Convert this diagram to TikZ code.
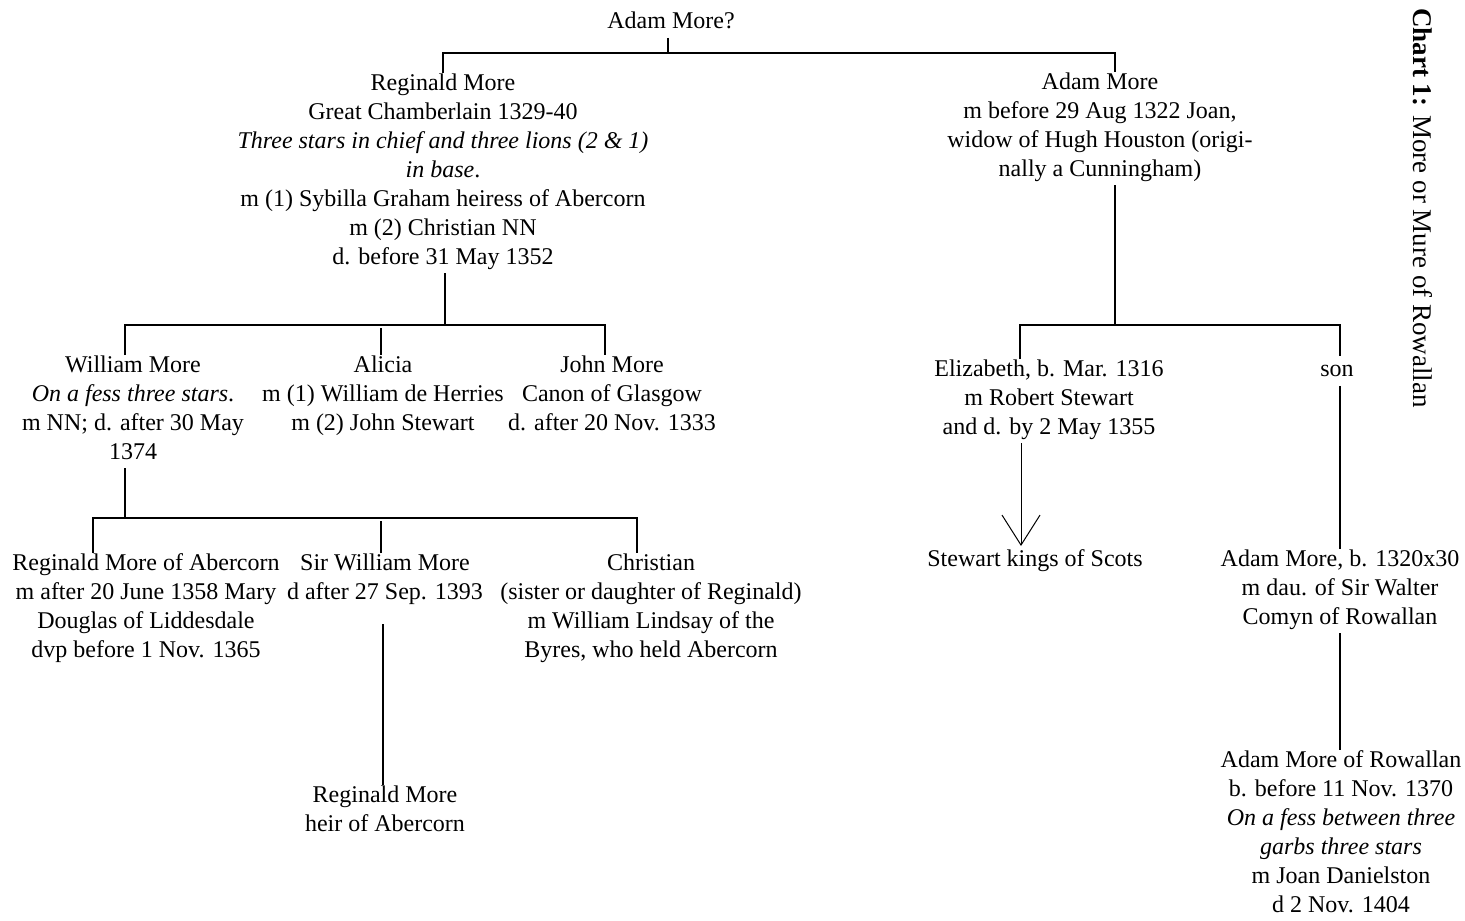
\documentclass[tikz,border=0pt]{standalone}
\usepackage{fontspec}
\setmainfont{Liberation Serif}
\usetikzlibrary{arrows.meta}
\tikzset{
  person/.style={align=center, inner sep=0pt, anchor=north,
    font=\fontsize{12}{14.5}\selectfont,
    execute at begin node=\strut, execute at end node=\strut},
  tree/.style={line width=1.2pt},
}
\begin{document}
\begin{tikzpicture}[x=0.5pt,y=-0.5pt]
  \fill[white] (0,0) rectangle (1465,920);
  \useasboundingbox (0,0) rectangle (1465,920);
  \node[person] (0) at (671,8) {Adam More?};
  \node[person] (1) at (443,73) {Reginald More\\Great Chamberlain 1329-40\\
    \textit{Three stars in chief and three lions (2 \& 1)}\\\textit{in base}.\\
    m (1) Sybilla Graham heiress of Abercorn\\m (2) Christian NN\\d. before 31 May 1352};
  \node[person] (2) at (1100,72) {Adam More\\m before 29 Aug 1322 Joan,\\
    widow of Hugh Houston (origi-\\nally a Cunningham)};
  \node[person] (3) at (133,355) {William More\\\textit{On a fess three stars}.\\
    m NN; d. after 30 May\\1374};
  \node[person] (4) at (383,355) {Alicia\\m (1) William de Herries\\m (2) John Stewart};
  \node[person] (5) at (612,355) {John More\\Canon of Glasgow\\d. after 20 Nov. 1333};
  \node[person] (6) at (1049,359) {Elizabeth, b. Mar. 1316\\m Robert Stewart\\and d. by 2 May 1355};
  \node[person] (7) at (1337,356) {son};
  \node[person] (8) at (1035,546) {Stewart kings of Scots};
  \node[person] (9) at (1340,549) {Adam More, b. 1320x30\\m dau. of Sir Walter\\Comyn of Rowallan};
  \node[person] (10) at (1341,750) {Adam More of Rowallan\\b. before 11 Nov. 1370\\
    \textit{On a fess between three}\\\textit{garbs three stars}\\m Joan Danielston\\d 2 Nov. 1404};
  \node[person] (11) at (146,553) {Reginald More of Abercorn\\m after 20 June 1358 Mary\\
    Douglas of Liddesdale\\dvp before 1 Nov. 1365};
  \node[person] (12) at (385,553) {Sir William More\\d after 27 Sep. 1393};
  \node[person] (13) at (651,553) {Christian\\(sister or daughter of Reginald)\\
    m William Lindsay of the\\Byres, who held Abercorn};
  \node[person] (14) at (385,785) {Reginald More\\heir of Abercorn};
  \node[rotate=-90, inner sep=0pt, font=\fontsize{13.5}{16}\selectfont] (t) at (1423,208)
    {\textbf{Chart 1:} More or Mure of Rowallan};
  \begin{scope}[tree]
    \draw ([xshift=-1.5pt]0.south) -- ++(0,15) coordinate (j0);
    \draw (1.north) |- (j0) -| ([xshift=7.5pt]2.north);
    \draw ([xshift=1pt]1.south) -- ++(0,52) coordinate (j1);
    \draw ([xshift=-4pt]3.north) |- (j1) -| ([xshift=-3.5pt]5.north);
    \draw ([xshift=-1pt]4.north) -- ++(0,-27);
    \draw ([xshift=7.5pt]2.south) -- ++(0,140) coordinate (j2);
    \draw ([xshift=-14.5pt]6.north) |- (j2) -| ([xshift=1.5pt]7.north);
    \draw ([xshift=1.5pt]7.south) -- (9.north);
    \draw (9.south) -- ([xshift=-0.5pt]10.north);
    \draw ([xshift=-4pt]3.south) -- ++(0,50) coordinate (j3);
    \draw ([xshift=-26.5pt]11.north) |- (j3) -| ([xshift=-7pt]13.north);
    \draw ([xshift=-2pt]12.north) -- ++(0,-32);
    \draw[shorten <=8pt] ([xshift=-1pt]12.south) -- ([xshift=-1pt]14.north);
  \end{scope}
  \draw[line width=0.5pt, -{Straight Barb[length=15pt,width=19pt,line width=0.5pt]}]
    ([xshift=-14pt]6.south) -- ([xshift=-7pt]8.north);
\end{tikzpicture}
\end{document}
